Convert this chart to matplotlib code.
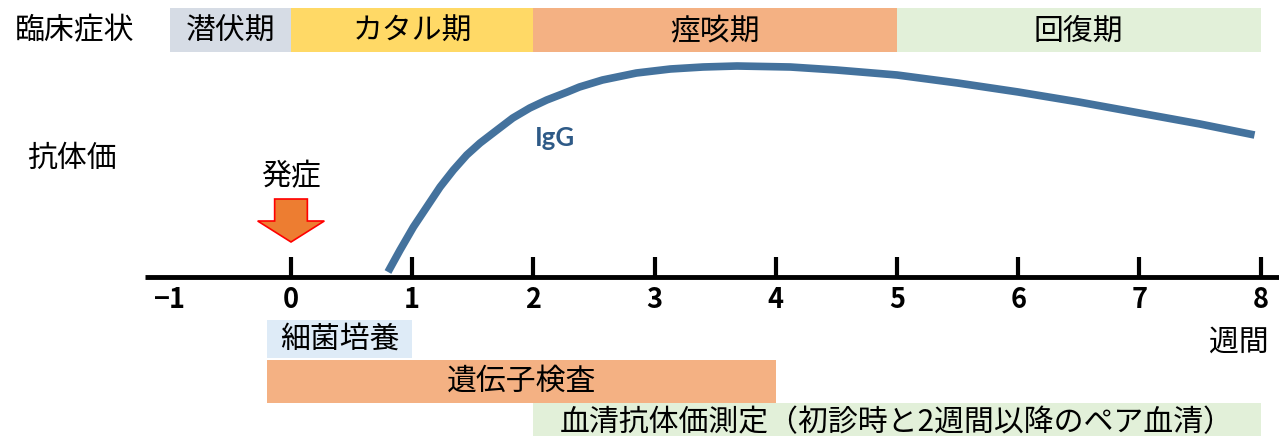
import numpy as np
import matplotlib.pyplot as plt
from matplotlib.patches import Rectangle, FancyArrow

plt.rcParams['font.family'] = ['Noto Sans CJK JP', 'DejaVu Sans']

# clinical phases (weeks)
phase_names = ['潜伏期', 'カタル期', '痙咳期', '回復期']
phase_start = [-1, 0, 2, 5]
phase_end = [0, 2, 5, 8]
phase_colors = ['#D6DCE5', '#FFD966', '#F4B183', '#E2F0D9']

# diagnostic tests (weeks)
test_names = ['細菌培養', '遺伝子検査', '血清抗体価測定（初診時と2週間以降のペア血清）']
test_start = [-0.2, -0.2, 2]
test_end = [1, 4, 8]
test_colors = ['#DEEBF7', '#F4B183', '#E2F0D9']

# IgG antibody titre (arbitrary units)
igg_weeks = [0.80, 0.90, 1.01, 1.12, 1.23, 1.34, 1.45, 1.56, 1.70, 1.83, 1.97,
             2.11, 2.28, 2.38, 2.57, 2.85, 3.13, 3.40, 3.68, 4.12, 4.5, 5.0,
             5.5, 6.0, 6.5, 7.0, 7.5, 7.95]
igg_level = [5, 27, 50, 70, 90, 107, 122, 134, 147, 159, 169,
             177, 185, 190, 197, 204, 208, 210, 211, 210, 207, 202,
             194, 185, 175, 164, 153, 142]

tick_weeks = [-1, 0, 1, 2, 3, 4, 5, 6, 7, 8]
tick_labels = ['−1', '0', '1', '2', '3', '4', '5', '6', '7', '8']

PX = 121.2  # pixels per week
fig = plt.figure(figsize=(12.79, 4.36), dpi=100)
ax = fig.add_axes([0, 0, 1, 1])
ax.set_xlim(-291 / PX, (1279 - 291) / PX)
ax.set_ylim(-159, 277)
ax.axis('off')

FS = 21.5

# phase bars on top
for name, s, e, c in zip(phase_names, phase_start, phase_end, phase_colors):
    ax.add_patch(Rectangle((s, 225), e - s, 44, color=c, lw=0))
    ax.text((s + e) / 2, 246, name, ha='center', va='center', fontsize=FS)
ax.text(-1.79, 246, '臨床症状', ha='center', va='center', fontsize=FS)
ax.text(-1.81, 119, '抗体価', ha='center', va='center', fontsize=FS)

# onset arrow
ax.text(0, 100, '発症', ha='center', va='center', fontsize=FS)
ax.add_patch(FancyArrow(0, 78, 0, -43, width=0.27, head_width=0.55, head_length=21,
                        length_includes_head=True, facecolor='#ED7D31',
                        edgecolor='#FF0000', lw=1.2))

# IgG curve
ax.plot(igg_weeks, igg_level, color='#44729D', lw=5.5, solid_capstyle='butt',
        solid_joinstyle='round')
ax.text(2.18, 139, 'IgG', ha='center', va='center', fontsize=18.5,
        fontweight='bold', color='#2E5A87', family=['Lato', 'DejaVu Sans'])

# time axis
ax.plot([-146 / PX, 10], [0, 0], color='black', lw=3.5, solid_capstyle='butt')
ax.vlines(tick_weeks[1:], 0, 20, color='black', lw=3)
for w, lab in zip(tick_weeks, tick_labels):
    ax.text(w, -23, lab, ha='center', va='center', fontsize=19.5, fontweight='bold')
ax.text(7.82, -65, '週間', ha='center', va='center', fontsize=FS)

# test boxes
test_y = [(-81, 38), (-126, 43), (-170, 44)]
test_text_y = [-62, -104, -146]
for name, s, e, c, (y0, h), ty in zip(test_names, test_start, test_end, test_colors,
                                      test_y, test_text_y):
    ax.add_patch(Rectangle((s, y0), e - s, h, color=c, lw=0))
    ax.text((s + e) / 2, ty, name, ha='center', va='center', fontsize=FS)

fig.savefig('out.png', dpi=100)
